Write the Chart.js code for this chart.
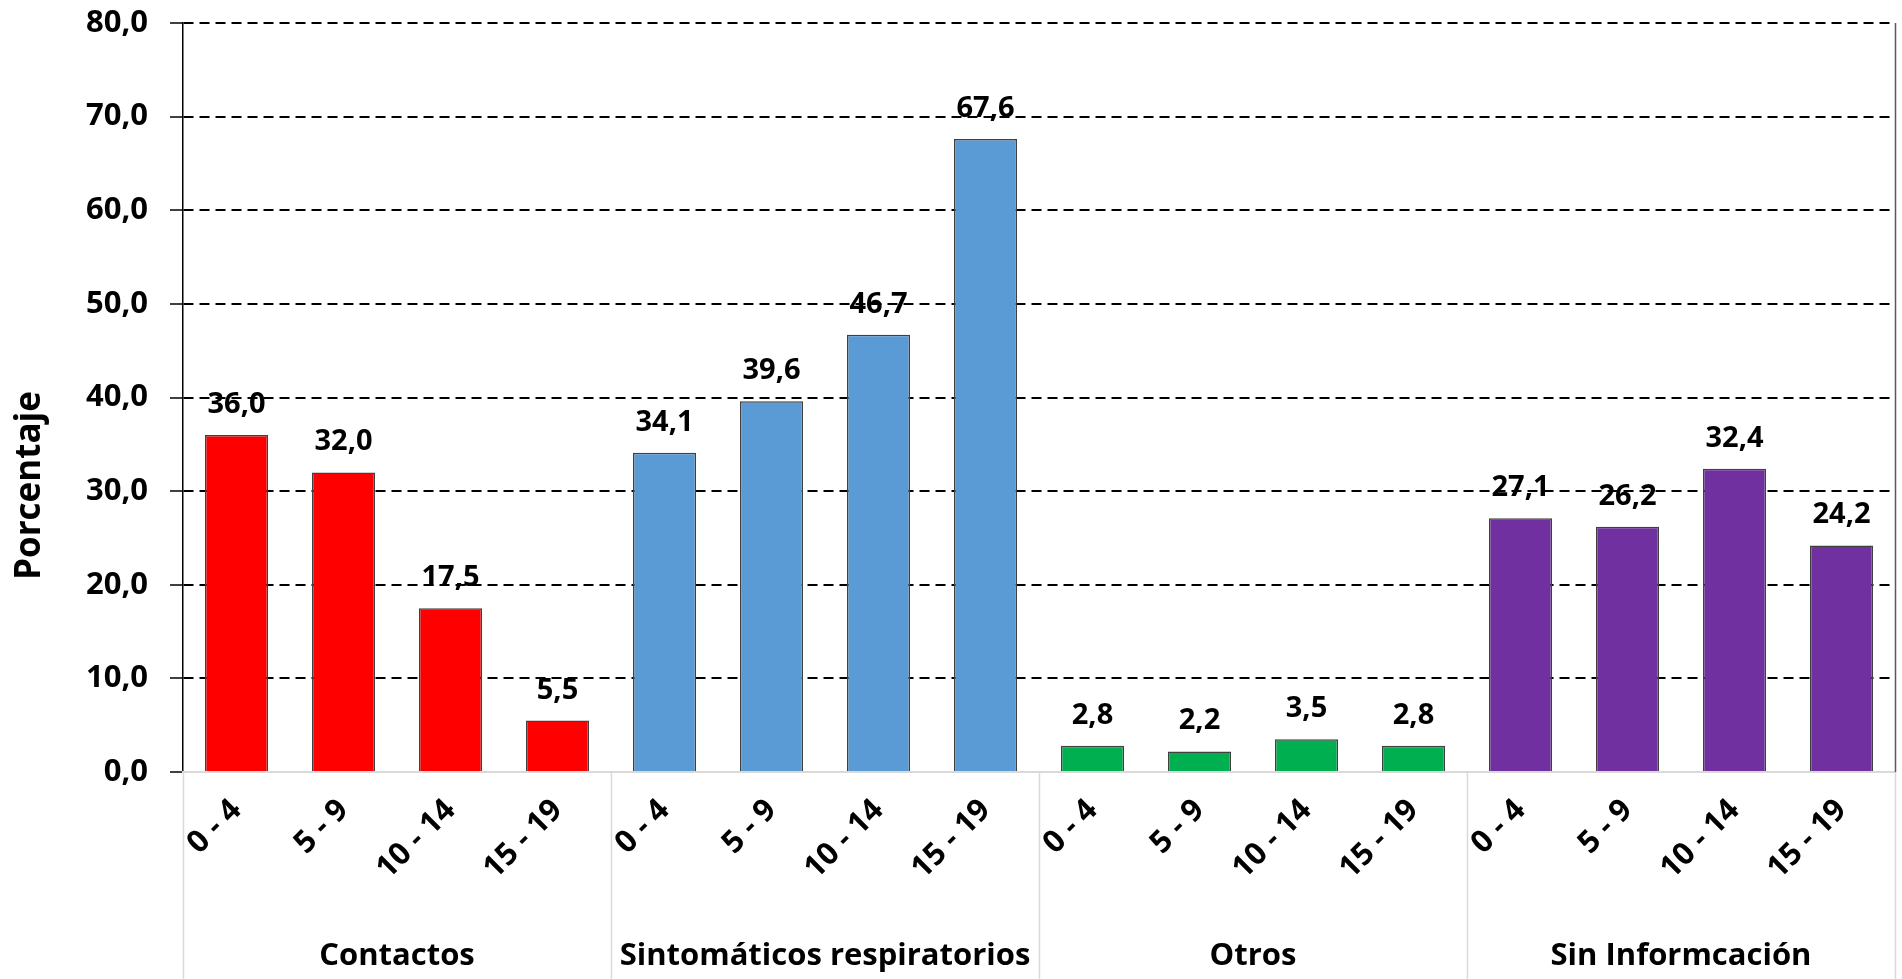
<!DOCTYPE html>
<html>
<head>
<meta charset="utf-8">
<script src="https://cdn.jsdelivr.net/npm/chart.js@4"></script>
<style>
  html, body { margin: 0; padding: 0; background: #fff; }
  #wrap { width: 1902px; height: 979px; position: relative; }
</style>
</head>
<body>
<div id="wrap"><canvas id="chart"></canvas></div>
<script>
/* Porcentaje por grupo de edad y motivo de consulta */

const ageGroups = ['0 - 4', '5 - 9', '10 - 14', '15 - 19'];
const groups = ['Contactos', 'Sintomáticos respiratorios', 'Otros', 'Sin Informcación'];
const groupColors = ['#ff0000', '#5b9bd5', '#00b050', '#7030a0'];
const contactos = [36.0, 32.0, 17.5, 5.5];
const sintomaticos = [34.1, 39.6, 46.7, 67.6];
const otros = [2.8, 2.2, 3.5, 2.8];
const sinInfo = [27.1, 26.2, 32.4, 24.2];
const yTicks = [0, 10, 20, 30, 40, 50, 60, 70, 80];
const yTitle = 'Porcentaje';

const FONT = "'Open Sans', 'Noto Sans', sans-serif";

const labels = [];
const values = [];
const colors = [];
[contactos, sintomaticos, otros, sinInfo].forEach(function (serie, g) {
    serie.forEach(function (v, i) {
        labels.push(ageGroups[i]);
        values.push(v);
        colors.push(groupColors[g]);
    });
});

function fmt(v) {
    return v.toFixed(1).replace('.', ',');
}

// value labels above bars
const barLabels = {
    id: 'barLabels',
    afterDatasetsDraw: function (chart) {
        const ctx = chart.ctx;
        const meta = chart.getDatasetMeta(0);
        ctx.save();
        ctx.font = 'bold 29px ' + FONT;
        ctx.fillStyle = '#000';
        ctx.textAlign = 'center';
        ctx.textBaseline = 'alphabetic';
        meta.data.forEach(function (bar, i) {
            ctx.fillText(fmt(values[i]), bar.x, bar.y - 22);
        });
        ctx.restore();
    }
};

// group separators under the axis, right frame line, y title
const groupLines = {
    id: 'groupLines',
    afterDraw: function (chart) {
        const ctx = chart.ctx;
        const area = chart.chartArea;
        const x = chart.scales.x;
        const n = ageGroups.length;
        const xs = [area.left];
        for (let g = 1; g < groups.length; g++) {
            xs.push((x.getPixelForValue(g * n - 1) + x.getPixelForValue(g * n)) / 2);
        }
        xs.push(area.right);
        ctx.save();
        ctx.strokeStyle = '#d9d9d9';
        ctx.lineWidth = 1.5;
        xs.forEach(function (px) {
            ctx.beginPath();
            ctx.moveTo(Math.round(px) + 0.5, area.bottom);
            ctx.lineTo(Math.round(px) + 0.5, chart.height);
            ctx.stroke();
        });
        ctx.strokeStyle = '#595959';
        ctx.beginPath();
        ctx.moveTo(Math.round(area.right) + 0.5, area.top);
        ctx.lineTo(Math.round(area.right) + 0.5, area.bottom);
        ctx.stroke();

        // axis title, centred on the full height like the original
        ctx.translate(30, chart.height / 2 - 4);
        ctx.rotate(-Math.PI / 2);
        ctx.font = 'bold 35px ' + FONT;
        ctx.fillStyle = '#000';
        ctx.textAlign = 'center';
        ctx.textBaseline = 'middle';
        ctx.fillText(yTitle, 0, 0);
        ctx.restore();
    }
};

new Chart(document.getElementById('chart'), {
    type: 'bar',
    data: {
        labels: labels,
        datasets: [{
            data: values,
            backgroundColor: colors,
            borderColor: '#404040',
            borderWidth: 1.5,
            categoryPercentage: 1,
            barPercentage: 0.59,
        }],
    },
    options: {
        responsive: true,
        maintainAspectRatio: false,
        animation: false,
        layout: { padding: { top: 23, right: 7, left: 0, bottom: 0 } },
        plugins: {
            legend: { display: false },
            tooltip: { enabled: false },
        },
        scales: {
            y: {
                min: 0,
                max: 80,
                afterBuildTicks: function (scale) {
                    scale.ticks = yTicks.map(function (v) { return { value: v }; });
                },
                afterFit: function (scale) {
                    scale.width = 183;
                    scale.paddingTop = 0;
                    scale.paddingBottom = 0;
                },
                ticks: {
                    color: '#000',
                    font: { family: FONT, size: 31, weight: 'bold' },
                    padding: 22,
                    callback: function (v) { return fmt(v); },
                },
                grid: {
                    color: function (c) { return c.tick && c.tick.value === 0 ? 'rgba(0,0,0,0)' : '#000'; },
                    lineWidth: 2,
                    borderDash: [10, 6],
                    tickLength: 13,
                    tickColor: '#000',
                    tickWidth: 1.5,
                    tickBorderDash: [],
                },
                border: { color: '#000', width: 1.5, dash: [10, 6] },
            },
            x: {
                afterFit: function (scale) { scale.height = 140; },
                ticks: {
                    color: '#000',
                    font: { family: FONT, size: 31, weight: 'bold' },
                    minRotation: 45,
                    maxRotation: 45,
                    padding: 20,
                    autoSkip: false,
                },
                grid: { display: false, drawTicks: false },
                border: { color: '#d9d9d9', width: 2 },
            },
            x2: {
                type: 'category',
                position: 'bottom',
                labels: groups,
                offset: true,
                afterFit: function (scale) { scale.height = 67; },
                ticks: {
                    color: '#000',
                    font: { family: FONT, size: 31, weight: 'bold' },
                    padding: 26,
                    autoSkip: false,
                    maxRotation: 0,
                },
                grid: { display: false, drawTicks: false },
                border: { display: false },
            },
        },
    },
    plugins: [barLabels, groupLines],
});
</script>
</body>
</html>
